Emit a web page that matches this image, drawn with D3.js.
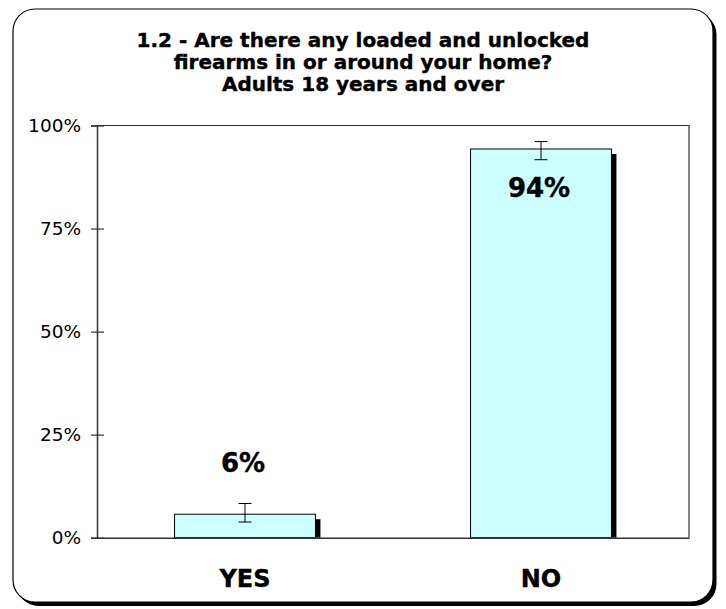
<!DOCTYPE html>
<html>
<head>
<meta charset="utf-8">
<script src="https://cdn.jsdelivr.net/npm/d3@7"></script>
<style>
html,body{margin:0;padding:0;background:#fff;}
svg{display:block;}
text{font-family:"DejaVu Sans",Verdana,sans-serif;}
</style>
</head>
<body>
<svg id="chart" width="726" height="609"></svg>
<script>
const titleLines = ["1.2 - Are there any loaded and unlocked", "firearms in or around your home?", "Adults 18 years and over"];
const categories = ["YES", "NO"];
const values = [5.7, 94.3];
const errLow = [3.8, 91.7];
const errHigh = [8.3, 96.1];
const valueLabels = ["6%", "94%"];
const yTicks = [0, 25, 50, 75, 100];

const svg = d3.select("#chart");

// chart frame with shadow
svg.append("rect").attr("x", 16.5).attr("y", 12.5).attr("width", 700).attr("height", 593.5)
  .attr("rx", 22).attr("fill", "#000");
svg.append("rect").attr("x", 13).attr("y", 9).attr("width", 700).attr("height", 593)
  .attr("rx", 22).attr("fill", "#fff").attr("stroke", "#000").attr("stroke-width", 1.2);

const m = {left: 97, right: 689, top: 125.5, bottom: 537.7};

const x = d3.scaleBand().domain(categories).range([m.left, m.right])
  .paddingInner(0.524).paddingOuter(0.262);
const y = d3.scaleLinear().domain([0, 100]).range([m.bottom, m.top]);

// plot area border (top & right)
svg.append("path")
  .attr("d", `M${m.left},${m.top}H${m.right}V${m.bottom}`)
  .attr("fill", "none").attr("stroke", "#333").attr("stroke-width", 1.2);

// title
const title = svg.append("text").attr("text-anchor", "middle")
  .attr("font-weight", "bold").attr("font-size", 20).attr("fill", "#000")
  .attr("stroke", "#000").attr("stroke-width", 0.4);
titleLines.forEach((t, i) => {
  title.append("tspan").attr("x", 363).attr("y", 47 + i * 22).text(t);
});

// shadows
const shadowOff = 5;
svg.append("g").selectAll("rect").data(categories).join("rect")
  .attr("x", d => x(d) + shadowOff)
  .attr("y", (d, i) => y(values[i]) + shadowOff)
  .attr("width", x.bandwidth())
  .attr("height", (d, i) => y(0) - y(values[i]) - shadowOff)
  .attr("fill", "#000");

// bars
svg.append("g").selectAll("rect").data(categories).join("rect")
  .attr("x", d => x(d))
  .attr("y", (d, i) => y(values[i]))
  .attr("width", x.bandwidth())
  .attr("height", (d, i) => y(0) - y(values[i]))
  .attr("fill", "#ccffff").attr("stroke", "#000").attr("stroke-width", 1);

// error bars
const eg = svg.append("g").attr("stroke", "#000").attr("stroke-width", 1).attr("fill", "none");
categories.forEach((c, i) => {
  const cx = x(c) + x.bandwidth() / 2;
  eg.append("line").attr("x1", cx).attr("x2", cx).attr("y1", y(errLow[i])).attr("y2", y(errHigh[i]));
  eg.append("line").attr("x1", cx - 6.5).attr("x2", cx + 6.5).attr("y1", y(errLow[i])).attr("y2", y(errLow[i]));
  eg.append("line").attr("x1", cx - 6.5).attr("x2", cx + 6.5).attr("y1", y(errHigh[i])).attr("y2", y(errHigh[i]));
});

// value labels
svg.append("g").selectAll("text").data(categories).join("text")
  .attr("x", d => x(d) + x.bandwidth() / 2 - 2)
  .attr("y", (d, i) => values[i] > 50 ? y(values[i]) + 48 : y(values[i]) - 42)
  .attr("text-anchor", "middle").attr("font-weight", "bold").attr("font-size", 26)
  .attr("fill", "#000").attr("stroke", "#000").attr("stroke-width", 0.4)
  .text((d, i) => valueLabels[i]);

// y axis
const yAxis = d3.axisLeft(y).tickValues(yTicks).tickFormat(d => d + "%").tickSize(6).tickPadding(10);
const ya = svg.append("g").attr("transform", `translate(${m.left},0)`).call(yAxis);
ya.select(".domain").attr("stroke", "#333").attr("stroke-width", 1.5);
ya.selectAll(".tick line").attr("x2", 7).attr("x1", -6).attr("stroke", "#333").attr("stroke-width", 1.2);
ya.selectAll(".tick text").attr("font-size", 18.5).attr("fill", "#000")
  .attr("font-family", "DejaVu Sans, Verdana, sans-serif").attr("x", -16);

// x axis
const xAxis = d3.axisBottom(x).tickSize(0).tickPadding(0);
const xa = svg.append("g").attr("transform", `translate(0,${m.bottom})`).call(xAxis);
xa.select(".domain").attr("stroke", "#333").attr("stroke-width", 1.5);
xa.selectAll(".tick text").attr("font-size", 24).attr("font-weight", "bold").attr("fill", "#000")
  .attr("stroke", "#000").attr("stroke-width", 0.4)
  .attr("font-family", "DejaVu Sans, Verdana, sans-serif").attr("dy", null).attr("y", 49);
</script>
</body>
</html>
